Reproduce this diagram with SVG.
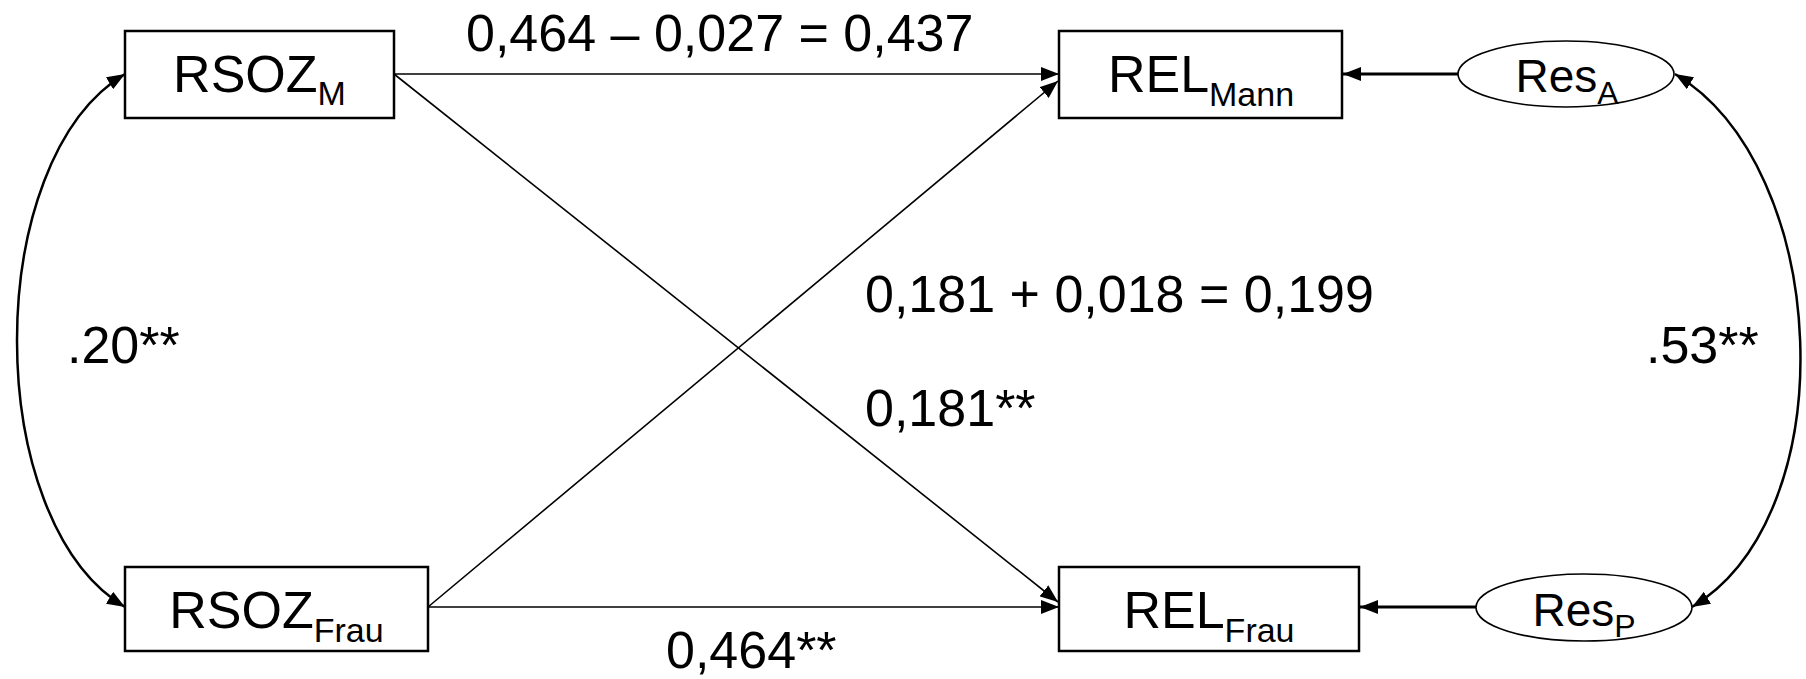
<svg xmlns="http://www.w3.org/2000/svg" width="1806" height="679" viewBox="0 0 1806 679">
<defs>
<style>
text{font-family:"Liberation Sans",Arial,sans-serif;fill:#000}
.box{fill:#fff;stroke:#000;stroke-width:2.5}
.ell{fill:#fff;stroke:#000;stroke-width:1.6}
.lbl{font-size:52px}
.node{font-size:52px}
.res{font-size:46px}
.thin{fill:none;stroke:#000;stroke-width:1.6}
.thick{fill:none;stroke:#000;stroke-width:3}
.curve{fill:none;stroke:#000;stroke-width:2.5}
</style>
<marker id="ah" viewBox="0 0 18 14" refX="18" refY="7" markerWidth="18" markerHeight="14" markerUnits="userSpaceOnUse" orient="auto-start-reverse">
<path d="M0,0 L18,7 L0,14 Z" fill="#000"/>
</marker>
</defs>
<rect width="1806" height="679" fill="#fff"/>
<g id="connectors">
<line class="thin" x1="394" y1="74" x2="1059" y2="74" marker-end="url(#ah)"/>
<line class="thin" x1="394" y1="74" x2="1058" y2="602" marker-end="url(#ah)"/>
<line class="thin" x1="428" y1="607" x2="1058" y2="81" marker-end="url(#ah)"/>
<line class="thin" x1="428" y1="607" x2="1059" y2="607" marker-end="url(#ah)"/>
<line class="thick" x1="1458" y1="74" x2="1343" y2="74" marker-end="url(#ah)"/>
<line class="thick" x1="1476" y1="607" x2="1360" y2="607" marker-end="url(#ah)"/>
<path class="curve" d="M125,74 C-19,160 -19,521 125,607" marker-start="url(#ah)" marker-end="url(#ah)"/>
<path class="curve" d="M1675,74 C1831,167 1847,514 1692,607" marker-start="url(#ah)" marker-end="url(#ah)"/>
</g>
<g id="RSOZ_M">
<rect class="box" x="125" y="31" width="269" height="87"/>
<text class="node" x="259.5" y="92" text-anchor="middle">RSOZ<tspan dy="13" font-size="34">M</tspan></text>
</g>
<g id="RSOZ_Frau">
<rect class="box" x="125" y="567" width="303" height="84"/>
<text class="node" x="276.5" y="628" text-anchor="middle">RSOZ<tspan dy="14" font-size="34">Frau</tspan></text>
</g>
<g id="REL_Mann">
<rect class="box" x="1059" y="31" width="283" height="87"/>
<text class="node" x="1201" y="92" text-anchor="middle">REL<tspan dy="14" font-size="34">Mann</tspan></text>
</g>
<g id="REL_Frau">
<rect class="box" x="1059" y="567" width="300" height="84"/>
<text class="node" x="1209" y="628" text-anchor="middle">REL<tspan dy="14" font-size="34">Frau</tspan></text>
</g>
<g id="Res_A">
<ellipse class="ell" cx="1566" cy="74" rx="108" ry="33"/>
<text class="res" x="1567" y="92" text-anchor="middle">Res<tspan dy="12" font-size="32">A</tspan></text>
</g>
<g id="Res_P">
<ellipse class="ell" cx="1584" cy="607.5" rx="108" ry="33.5"/>
<text class="res" x="1584" y="626" text-anchor="middle">Res<tspan dy="11" font-size="32">P</tspan></text>
</g>
<g id="labels">
<text class="lbl" x="466" y="51">0,464 – 0,027 = 0,437</text>
<text class="lbl" x="865" y="312">0,181 + 0,018 = 0,199</text>
<text class="lbl" x="865" y="426">0,181**</text>
<text class="lbl" x="666" y="668">0,464**</text>
<text class="lbl" x="67" y="363" font-size="50">.20**</text>
<text class="lbl" x="1646" y="363" font-size="50">.53**</text>
</g>
</svg>
